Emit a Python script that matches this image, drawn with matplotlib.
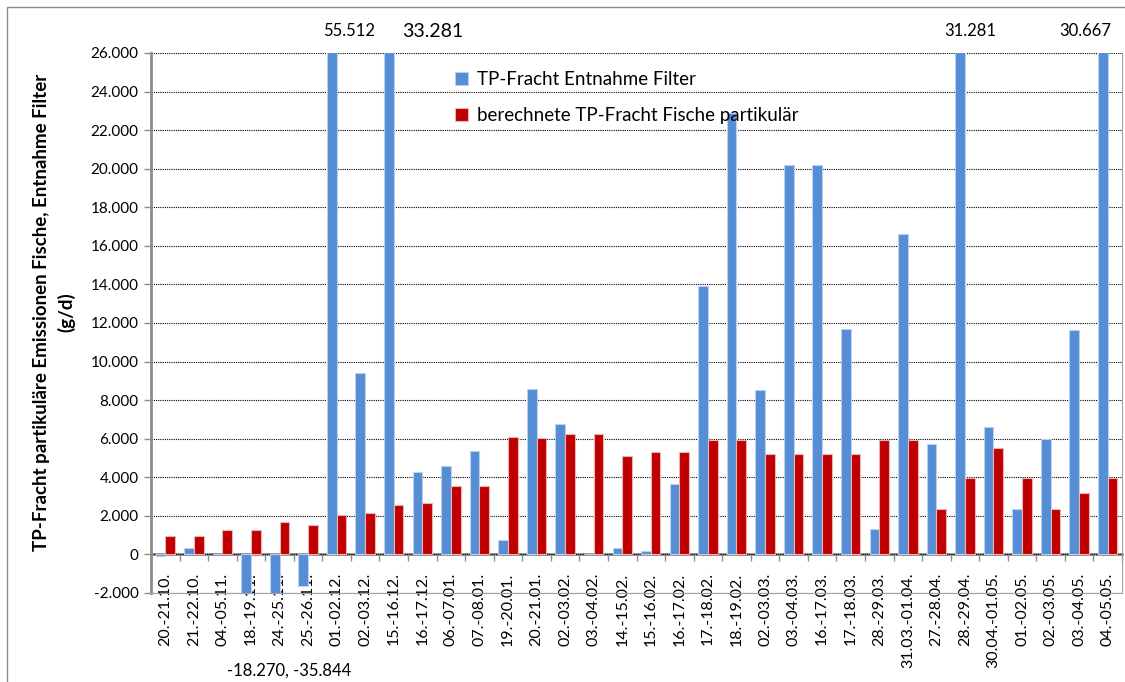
import numpy as np
import matplotlib.pyplot as plt
from matplotlib.patches import Rectangle
from matplotlib.ticker import FuncFormatter

plt.rcParams['font.family'] = ['Lato', 'DejaVu Sans']

dates = ["20.-21.10.", "21.-22.10.", "04.-05.11.", "18.-19.11.", "24.-25.11.", "25.-26.11.",
         "01.-02.12.", "02.-03.12.", "15.-16.12.", "16.-17.12.", "06.-07.01.", "07.-08.01.",
         "19.-20.01.", "20.-21.01.", "02.-03.02.", "03.-04.02.", "14.-15.02.", "15.-16.02.",
         "16.-17.02.", "17.-18.02.", "18.-19.02.", "02.-03.03.", "03.-04.03.", "16.-17.03.",
         "17.-18.03.", "28.-29.03.", "31.03.-01.04.", "27.-28.04.", "28.-29.04.",
         "30.04.-01.05.", "01.-02.05.", "02.-03.05.", "03.-04.05.", "04.-05.05."]

filter_load = [-100, 330, 0, -18270, -35844, -1650, 55512, 9420, 33281, 4280, 4600, 5340,
               760, 8600, 6740, 0, 310, 170, 3630, 13930, 22900, 8530, 20170, 20170,
               11700, 1300, 16600, 5730, 31281, 6610, 2350, 6000, 11650, 30667]

fish_load = [970, 970, 1280, 1280, 1700, 1520, 2070, 2140, 2560, 2680, 3560, 3560,
             6080, 6050, 6230, 6230, 5110, 5300, 5300, 5940, 5940, 5230, 5230, 5230,
             5230, 5920, 5940, 2350, 3960, 5540, 3960, 2350, 3200, 3960]

# values written above the clipped bars
top_notes = {6: "55.512", 8: "33.281", 28: "31.281", 33: "30.667"}
bottom_note = "-18.270, -35.844"

blue = "#558ed5"
red = "#c00000"
grey = "#8c8c8c"

fig = plt.figure(figsize=(11.25, 6.82), dpi=100)
ax = fig.add_axes([151 / 1125, 1 - 593 / 682, (1122 - 151) / 1125, (593 - 53) / 682])

x = np.arange(len(dates))
w = 0.34
ax.bar(x - w / 2, filter_load, w, color=blue, edgecolor="#b9d0ee", linewidth=0.8,
       label="TP-Fracht Entnahme Filter", zorder=3)
ax.bar(x + w / 2, fish_load, w, color=red, edgecolor="#eab4b4", linewidth=0.8,
       label="berechnete TP-Fracht Fische partikulär", zorder=3)

ax.set_xlim(-0.5, len(dates) - 0.5)
ax.set_ylim(-2000, 26000)
ax.set_yticks(np.arange(-2000, 26001, 2000))
ax.yaxis.set_major_formatter(FuncFormatter(lambda v, p: f"{int(v):,}".replace(",", ".")))
ax.grid(axis="y", color="black", linestyle=(0, (1, 1)), linewidth=0.8, zorder=1)

ax.set_xticks([])
ax.tick_params(axis="y", length=5, color=grey, width=1, labelsize=11, pad=4)

ax.spines["top"].set_visible(False)
ax.spines["left"].set_color(grey)
ax.spines["left"].set_linewidth(2)
ax.spines["right"].set_color("#a0a0a0")
ax.spines["bottom"].set_color("#a0a0a0")

# category axis sits on the zero line, labels hang from it
zero_frac = (0 - ax.get_ylim()[0]) / (ax.get_ylim()[1] - ax.get_ylim()[0])
sec = ax.secondary_xaxis(zero_frac)
sec.set_xticks(x)
sec.set_xticklabels(dates, rotation=90, fontsize=11.5, va="top")
sec.set_xticks(np.arange(len(dates) + 1) - 0.5, minor=True)
sec.tick_params(which="major", length=0, pad=13)
sec.tick_params(which="minor", length=5, color=grey, width=1)
sec.spines["bottom"].set_color(grey)
sec.spines["bottom"].set_linewidth(2)

ax.set_ylabel("TP-Fracht partikuläre Emissionen Fische, Entnahme Filter\n(g/d)",
              fontsize=13.5, fontweight="bold", linespacing=1.5)
ax.yaxis.set_label_coords(-0.078, 0.52)

offsets = {6: 0.43, 8: 1.37, 28: 0.18, 33: -0.8}
for i, txt in top_notes.items():
    ax.text(i + offsets[i], 1.04, txt, transform=ax.get_xaxis_transform(),
            ha="center", va="center", fontsize=14 if i == 8 else 12)
ax.text(4.33, -0.143, bottom_note, transform=ax.get_xaxis_transform(),
        ha="center", va="center", fontsize=12)

ax.legend(loc="upper left", bbox_to_anchor=(0.296, 0.998), frameon=False, fontsize=13.5,
          handlelength=0.7, handleheight=0.7, labelspacing=1.0, handletextpad=0.45)

# outer chart frame
fig.patches.append(Rectangle((7 / 1125, -0.1), 1.2, 1 - 7 / 682 + 0.1,
                             transform=fig.transFigure, fill=False,
                             edgecolor=grey, linewidth=1))

fig.savefig("out.png", dpi=100)
